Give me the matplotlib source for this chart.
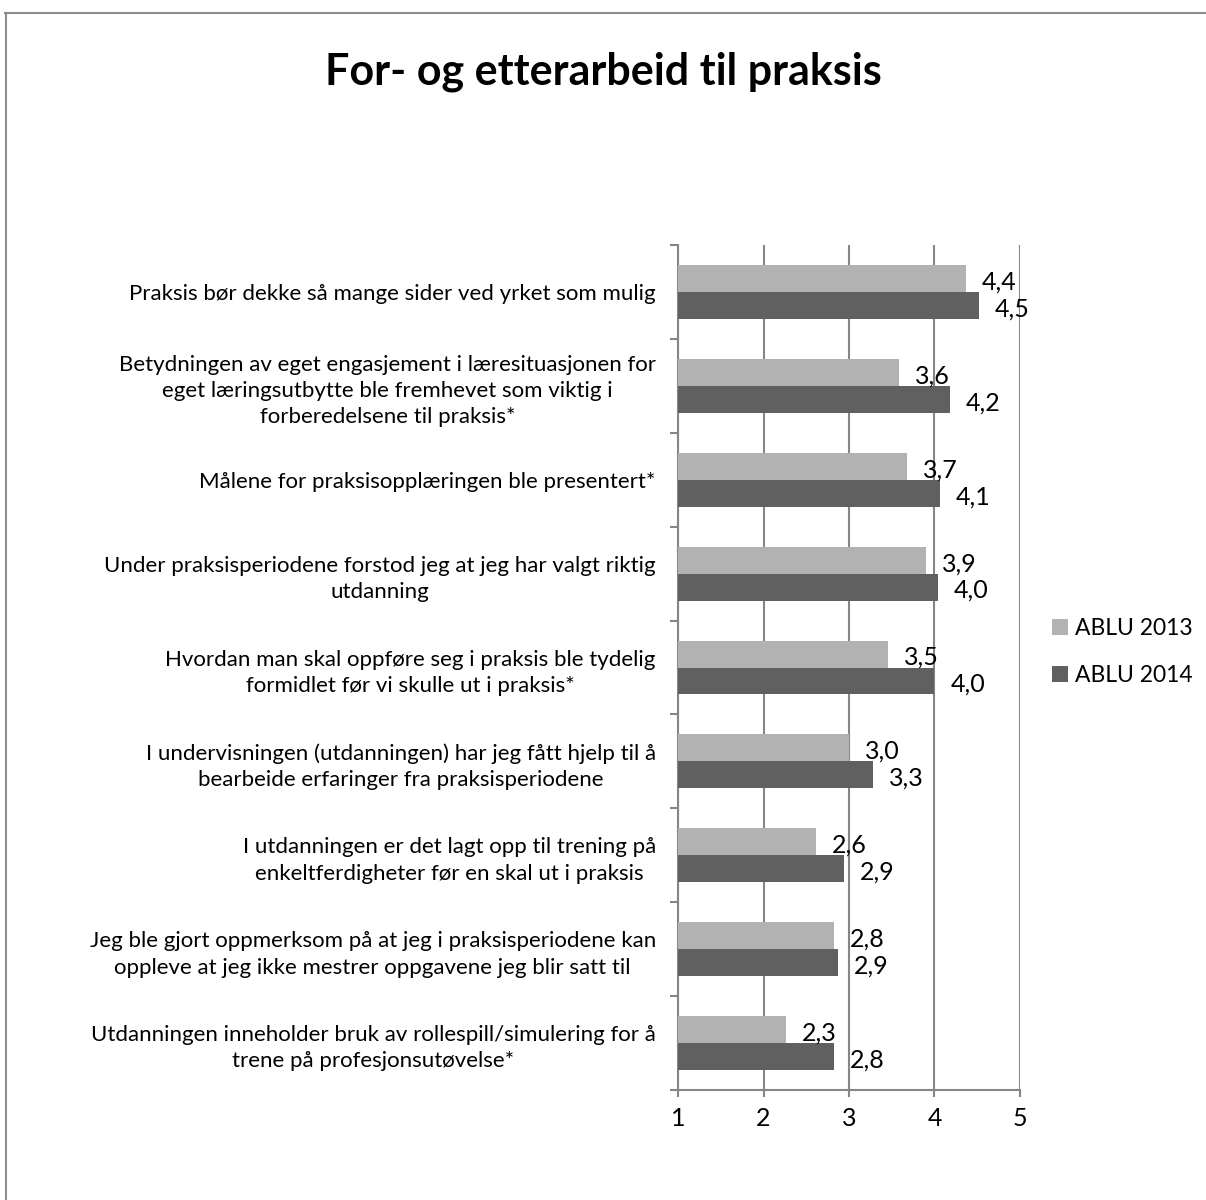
import numpy as np
import matplotlib
matplotlib.use("Agg")
import matplotlib.pyplot as plt
from matplotlib.lines import Line2D

plt.rcParams['font.family'] = ['Lato', 'DejaVu Sans']

# Spørsmål (ovenfra og ned) og gjennomsnittsskår per kull
kategorier = [
    "Praksis bør dekke så mange sider ved yrket som mulig",
    "Betydningen av eget engasjement i læresituasjonen for\neget læringsutbytte ble fremhevet som viktig i\nforberedelsene til praksis*",
    "Målene for praksisopplæringen ble presentert*",
    "Under praksisperiodene forstod jeg at jeg har valgt riktig\nutdanning",
    "Hvordan man skal oppføre seg i praksis ble tydelig\nformidlet før vi skulle ut i praksis*",
    "I undervisningen (utdanningen) har jeg fått hjelp til å\nbearbeide erfaringer fra praksisperiodene",
    "I utdanningen er det lagt opp til trening på\nenkeltferdigheter før en skal ut i praksis",
    "Jeg ble gjort oppmerksom på at jeg i praksisperiodene kan\noppleve at jeg ikke mestrer oppgavene jeg blir satt til",
    "Utdanningen inneholder bruk av rollespill/simulering for å\ntrene på profesjonsutøvelse*",
]
ablu_2013 = [4.37, 3.58, 3.68, 3.90, 3.46, 3.00, 2.61, 2.82, 2.26]
ablu_2014 = [4.52, 4.18, 4.06, 4.04, 4.00, 3.28, 2.94, 2.87, 2.82]
serier = ["ABLU 2013", "ABLU 2014"]
x_ticks = [1, 2, 3, 4, 5]

lys = "#b2b2b2"
mork = "#606060"
grid_farge = "#868686"

fig = plt.figure(figsize=(12.06, 12.0), dpi=100)
ax = fig.add_axes([678 / 1206, 1 - 1090 / 1200, (1020 - 678) / 1206, (1090 - 245) / 1200])

n = len(kategorier)
y = np.arange(n)
h = 0.287
start = 1

ax.barh(y - h / 2, np.array(ablu_2013) - start, left=start, height=h,
        color=lys, label=serier[0], zorder=3)
ax.barh(y + h / 2, np.array(ablu_2014) - start, left=start, height=h,
        color=mork, label=serier[1], zorder=3)

# verdietiketter med komma som desimaltegn
for yi, v in zip(y - h / 2, ablu_2013):
    ax.annotate(f"{v:.1f}".replace(".", ","), (v, yi), xytext=(11.5, -2.5),
                textcoords="offset points", va="center", ha="left", fontsize=18)
for yi, v in zip(y + h / 2, ablu_2014):
    ax.annotate(f"{v:.1f}".replace(".", ","), (v, yi), xytext=(11.5, -2.5),
                textcoords="offset points", va="center", ha="left", fontsize=18)

ax.set_xlim(1, 5)
ax.set_ylim(n - 0.5, -0.5)
ax.set_xticks(x_ticks)
ax.set_xticklabels([str(t) for t in x_ticks], fontsize=18)
ax.tick_params(axis="x", length=5, width=1.5, color=grid_farge, pad=7)

# kategorietiketter midt i hver gruppe, streker på grensene
ax.set_yticks(np.arange(-0.5, n, 1.0))
ax.set_yticklabels([])
ax.set_yticks(y, minor=True)
ax.set_yticklabels(kategorier, minor=True, fontsize=16, multialignment="center",
                   linespacing=1.4)
ax.tick_params(axis="y", which="major", length=6, width=1.5, color=grid_farge)
ax.tick_params(axis="y", which="minor", length=0, pad=16)

ax.xaxis.grid(True, color=grid_farge, linewidth=1.5, zorder=0)
ax.set_axisbelow(True)
for s in ["top", "right"]:
    ax.spines[s].set_visible(False)
for s in ["left", "bottom"]:
    ax.spines[s].set_color(grid_farge)
    ax.spines[s].set_linewidth(1.5)

fig.text(0.5, 1 - 72 / 1200, "For- og etterarbeid til praksis", ha="center", va="center",
         fontsize=31, fontweight="bold")

fig.legend(loc="center left", bbox_to_anchor=(1031 / 1206, 1 - 652 / 1200), frameon=False,
           fontsize=16.5, handlelength=0.7, handleheight=0.7, handletextpad=0.3,
           labelspacing=1.1)

# ramme rundt diagrammet
fig.add_artist(Line2D([5 / 1206, 1.01], [1 - 13 / 1200] * 2, color="#8c8c8c", linewidth=1.5))
fig.add_artist(Line2D([6 / 1206] * 2, [-0.01, 1 - 13 / 1200], color="#8c8c8c", linewidth=1.5))

fig.savefig("out.png", dpi=100, facecolor="white")
